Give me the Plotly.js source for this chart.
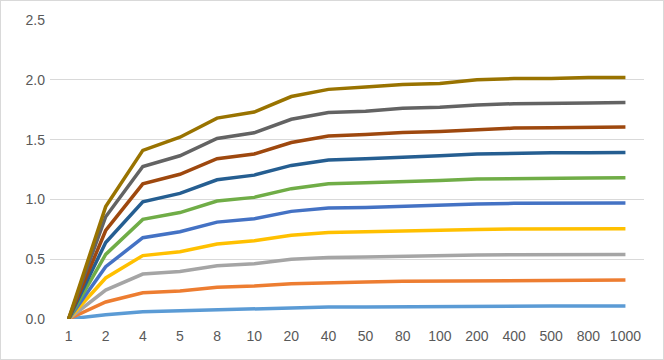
<!DOCTYPE html>
<html>
<head>
<meta charset="utf-8">
<script src="https://cdn.plot.ly/plotly-3.0.1.min.js"></script>
<style>
  body { margin: 0; background: #fff; }
  #chart { width: 662px; height: 358px; border: 1px solid #d9d9d9; }
</style>
</head>
<body>
<div id="chart"></div>
<script>
var categories = ['1', '2', '4', '5', '8', '10', '20', '40', '50', '80', '100', '200', '400', '500', '800', '1000'];

var s1 = [0, 0.036, 0.061, 0.070, 0.078, 0.083, 0.092, 0.100, 0.100, 0.103, 0.103, 0.105, 0.108, 0.108, 0.109, 0.109];
var s2 = [0, 0.142, 0.220, 0.234, 0.265, 0.276, 0.295, 0.306, 0.310, 0.315, 0.318, 0.320, 0.323, 0.323, 0.326, 0.326];
var s3 = [0, 0.242, 0.376, 0.398, 0.446, 0.462, 0.500, 0.515, 0.518, 0.526, 0.530, 0.535, 0.538, 0.538, 0.540, 0.540];
var s4 = [0, 0.343, 0.530, 0.563, 0.627, 0.655, 0.700, 0.724, 0.730, 0.738, 0.741, 0.749, 0.752, 0.752, 0.755, 0.755];
var s5 = [0, 0.437, 0.680, 0.730, 0.810, 0.838, 0.900, 0.928, 0.933, 0.944, 0.950, 0.961, 0.967, 0.967, 0.969, 0.970];
var s6 = [0, 0.540, 0.833, 0.890, 0.986, 1.017, 1.090, 1.130, 1.140, 1.153, 1.159, 1.170, 1.175, 1.178, 1.178, 1.180];
var s7 = [0, 0.640, 0.980, 1.050, 1.164, 1.203, 1.284, 1.330, 1.340, 1.356, 1.365, 1.380, 1.387, 1.390, 1.390, 1.393];
var s8 = [0, 0.740, 1.130, 1.210, 1.340, 1.380, 1.476, 1.530, 1.543, 1.560, 1.568, 1.585, 1.596, 1.600, 1.600, 1.605];
var s9 = [0, 0.855, 1.275, 1.365, 1.510, 1.557, 1.670, 1.727, 1.738, 1.763, 1.770, 1.790, 1.800, 1.800, 1.807, 1.810];
var s10 = [0, 0.940, 1.410, 1.520, 1.680, 1.730, 1.860, 1.920, 1.940, 1.960, 1.970, 2.000, 2.010, 2.010, 2.020, 2.020];

var seriesList = [s1, s2, s3, s4, s5, s6, s7, s8, s9, s10];
var colors = ['#5B9BD5', '#ED7D31', '#A5A5A5', '#FFC000', '#4472C4',
              '#70AD47', '#255E91', '#9E480E', '#636363', '#997300'];

var data = [];
for (var i = 0; i < seriesList.length; i++) {
  data.push({
    x: categories,
    y: seriesList[i],
    type: 'scatter',
    mode: 'lines',
    line: { color: colors[i], width: 3.5 },
    name: 'Series' + (i + 1)
  });
}

var layout = {
  width: 662,
  height: 358,
  margin: { l: 49, r: 19, t: 19, b: 40 },
  paper_bgcolor: '#ffffff',
  plot_bgcolor: '#ffffff',
  showlegend: false,
  font: { family: 'Liberation Sans, Arial, sans-serif', size: 14, color: '#595959' },
  xaxis: {
    type: 'category',
    range: [-0.5, 15.5],
    showgrid: false,
    zeroline: false,
    showline: false,
    ticks: '',
    ticklabelstandoff: 7,
    tickfont: { size: 14, color: '#595959' }
  },
  yaxis: {
    range: [0, 2.5],
    dtick: 0.5,
    tickformat: '.1f',
    showgrid: true,
    gridcolor: '#d9d9d9',
    gridwidth: 1,
    zeroline: false,
    showline: false,
    ticks: '',
    ticklabelstandoff: 4,
    tickfont: { size: 14, color: '#595959' }
  }
};

Plotly.newPlot('chart', data, layout, { displayModeBar: false, staticPlot: true });
</script>
</body>
</html>
